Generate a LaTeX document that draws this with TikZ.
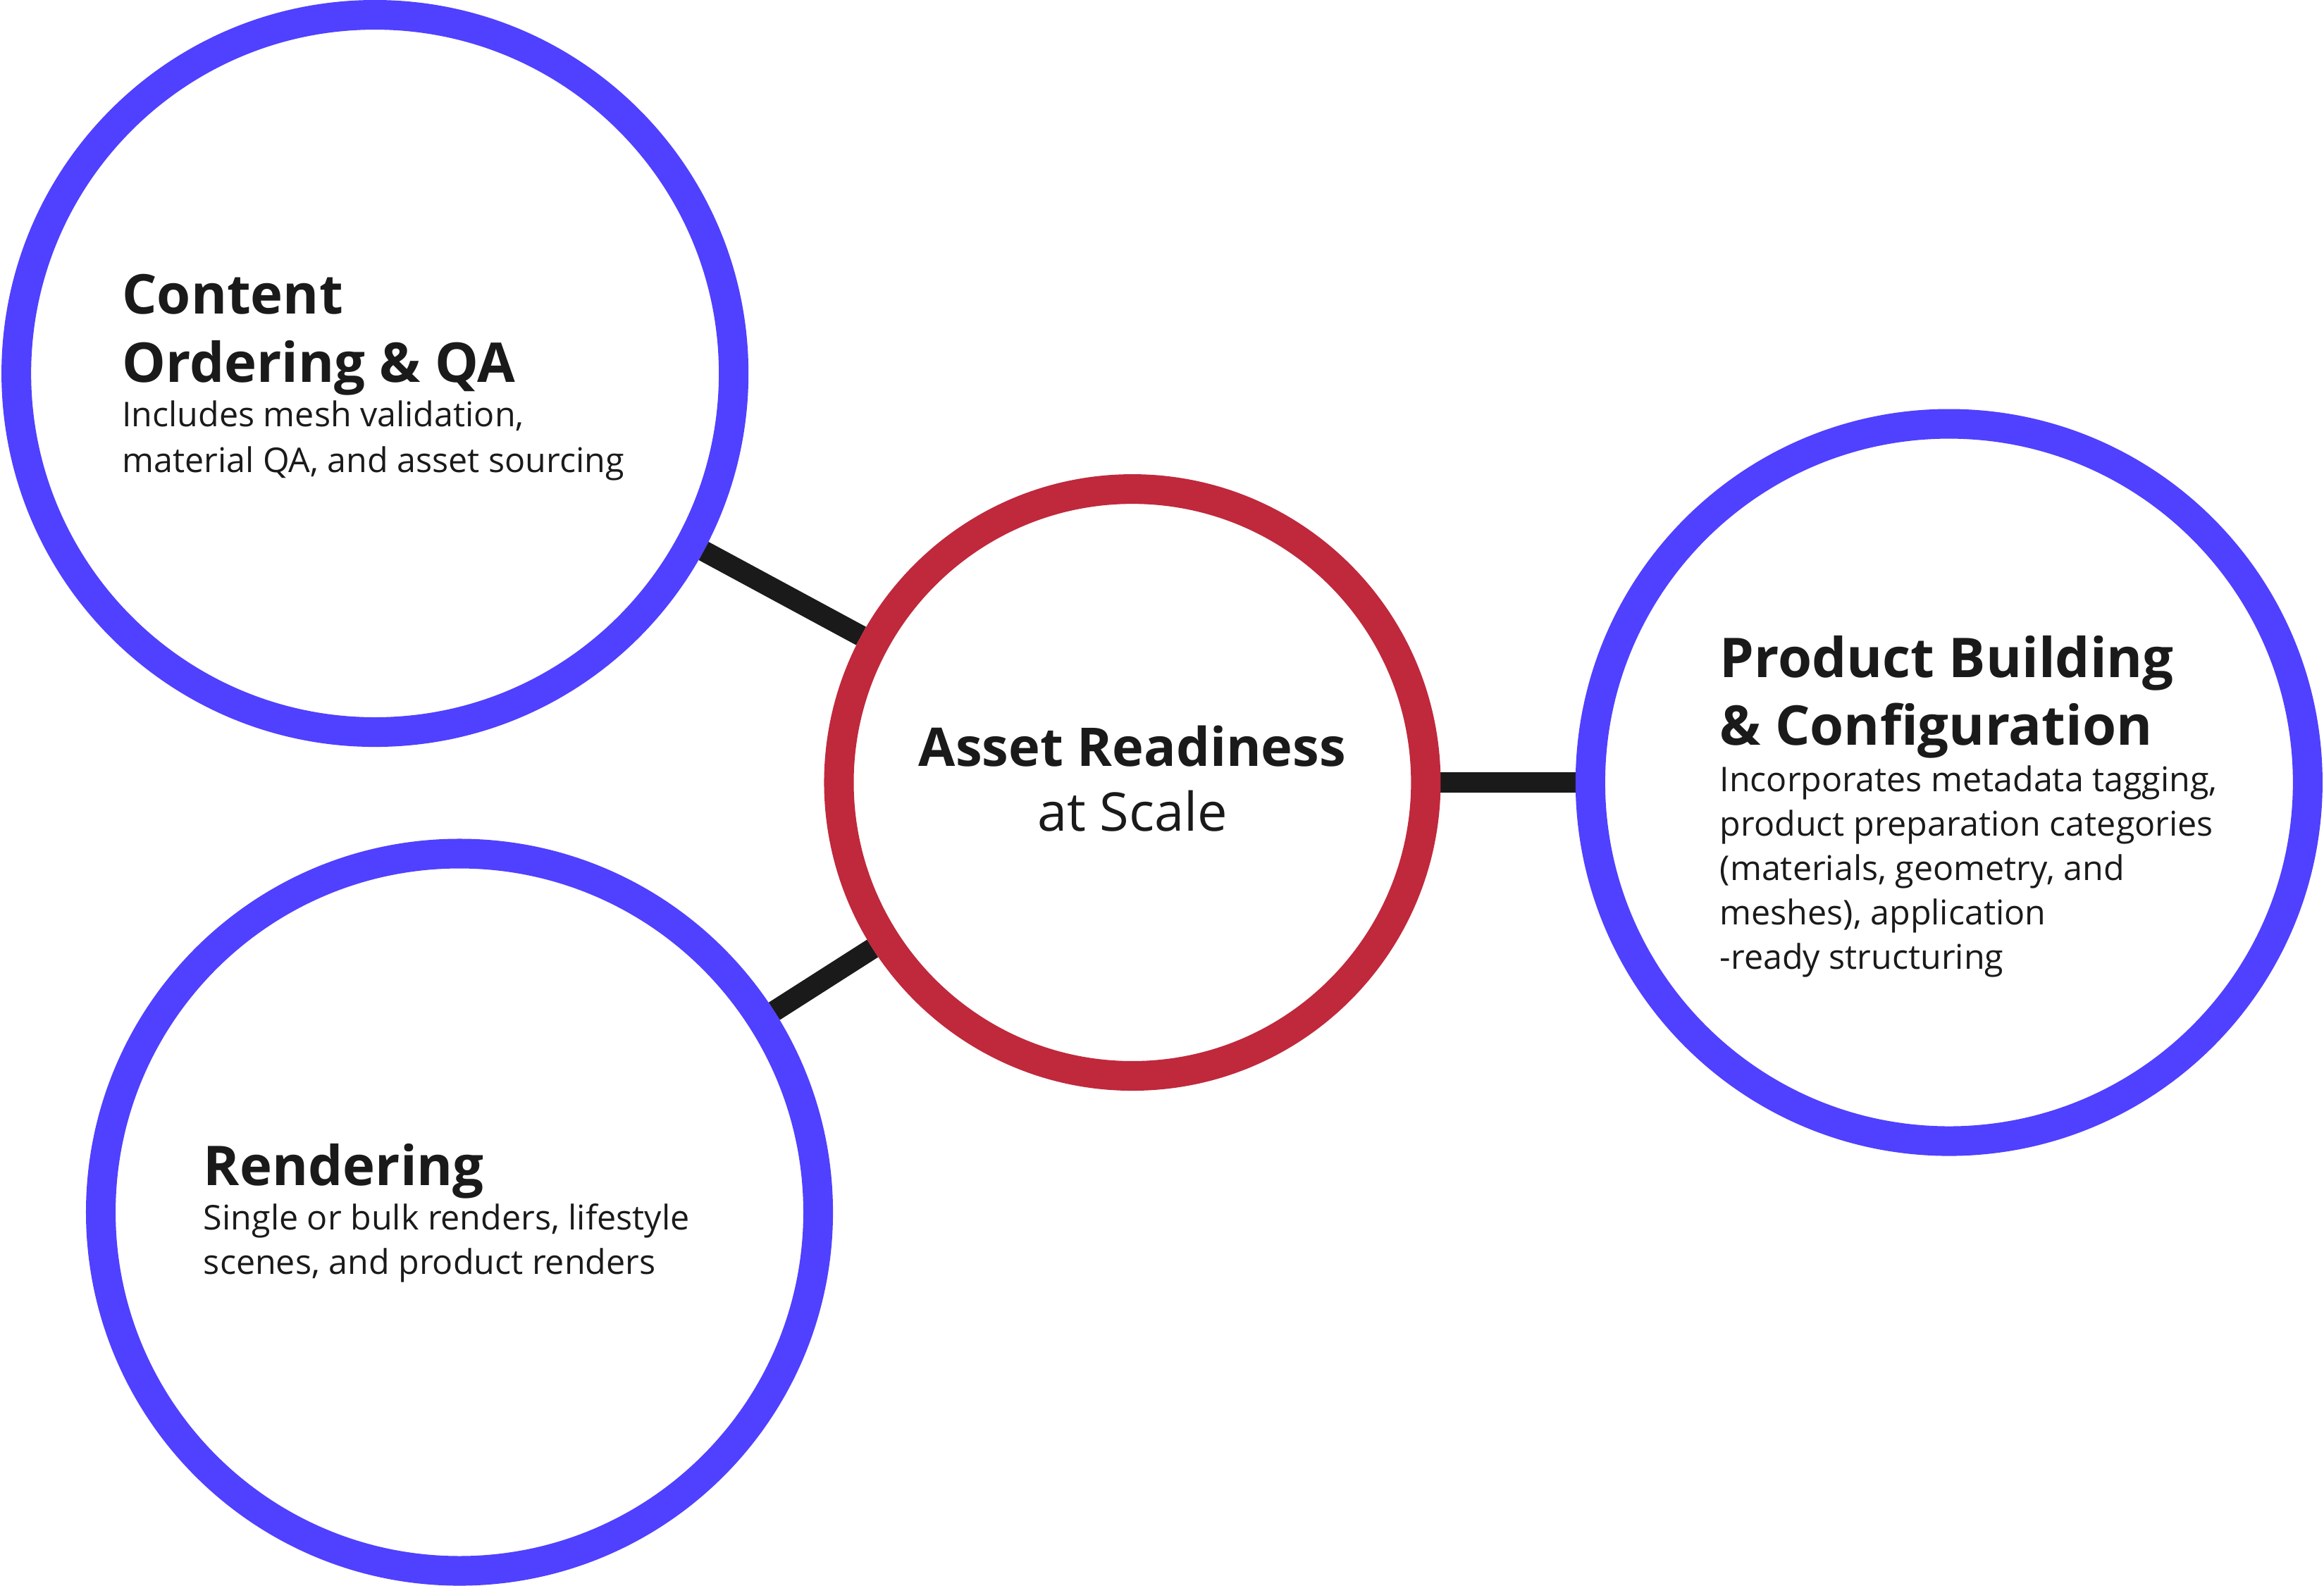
\documentclass[tikz,border=0pt]{standalone}
\usepackage{fontspec}
\setmainfont{Open Sans}
\usetikzlibrary{backgrounds}
\definecolor{cblue}{HTML}{5040FF}
\definecolor{cred}{HTML}{C0283C}
\definecolor{ink}{HTML}{1A1A1A}
\begin{document}
\begin{tikzpicture}[x=0.5pt,y=-0.5pt,
  ring/.style={circle,draw=cblue,line width=10pt,fill=white,minimum size=242pt,inner sep=0pt},
  hub/.style={circle,draw=cred,line width=10pt,fill=white,minimum size=198pt,inner sep=0pt},
  link/.style={draw=ink,line width=7pt},
  ttl/.style={anchor=base west,inner sep=0pt,text=ink,font=\fontsize{18.5}{22}\selectfont\bfseries},
  body/.style={anchor=base west,inner sep=0pt,text=ink,font=\fontsize{11.5}{14}\selectfont},
  ctr/.style={anchor=base,inner sep=0pt,text=ink,font=\fontsize{18}{22}\selectfont}]
\useasboundingbox (0,0) rectangle (1568,1070);
\node[ring] (c1) at (253,252) {};
\node[ring] (c2) at (310,818) {};
\node[hub] (hub) at (764,528) {};
\node[ring] (c3) at (1315,528) {};
\begin{scope}[on background layer]
\draw[link] (c1) -- (hub);
\draw[link] (c2) -- (hub);
\draw[link] (hub) -- (c3);
\end{scope}
\node[ttl] (t1a) at (82,212) {Content};
\node[ttl] (t1b) at (82,258) {Ordering \& QA};
\node[body] (b1a) at (82,288) {Includes mesh validation,};
\node[body] (b1b) at (82,319) {material QA, and asset sourcing};
\node[ctr,font=\fontsize{18}{22}\selectfont\bfseries] (h1) at (764,517) {Asset Readiness};
\node[ctr] (h2) at (764,561) {at Scale};
\node[ttl] (t3a) at (1160,457) {Product Building};
\node[ttl] (t3b) at (1160,503) {\& Configuration};
\node[body] (b3a) at (1160,534) {Incorporates metadata tagging,};
\node[body] (b3b) at (1160,564) {product preparation categories};
\node[body] (b3c) at (1160,594) {(materials, geometry, and};
\node[body] (b3d) at (1160,624) {meshes), application};
\node[body] (b3e) at (1160,654) {-ready structuring};
\node[ttl] (t2a) at (137,800) {Rendering};
\node[body] (b2a) at (137,830) {Single or bulk renders, lifestyle};
\node[body] (b2b) at (137,860) {scenes, and product renders};
\end{tikzpicture}
\end{document}
